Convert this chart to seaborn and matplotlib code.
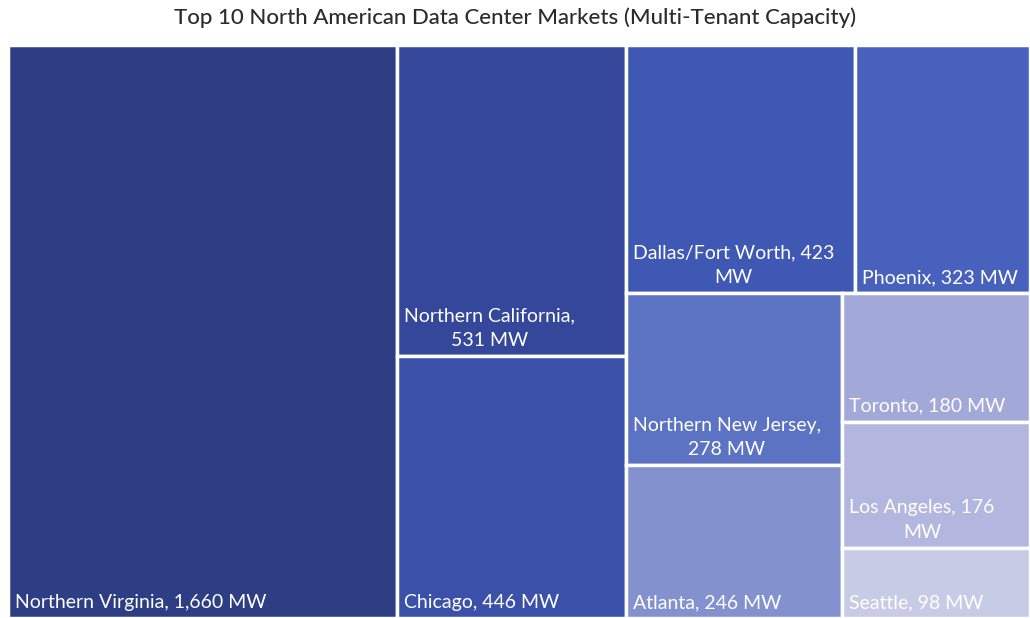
import matplotlib
matplotlib.use("Agg")
import matplotlib.pyplot as plt
import seaborn as sns

# top 10 markets, multi-tenant capacity in MW
markets = ["Northern Virginia", "Northern California", "Chicago", "Dallas/Fort Worth",
           "Phoenix", "Northern New Jersey", "Atlanta", "Toronto", "Los Angeles", "Seattle"]
capacity_mw = [1660, 531, 446, 423, 323, 278, 246, 180, 176, 98]
# labels as wrapped in the source chart
labels = ["Northern Virginia, 1,660 MW", "Northern California,\n531 MW", "Chicago, 446 MW",
          "Dallas/Fort Worth, 423\nMW", "Phoenix, 323 MW", "Northern New Jersey,\n278 MW",
          "Atlanta, 246 MW", "Toronto, 180 MW", "Los Angeles, 176\nMW", "Seattle, 98 MW"]
colors = ["#2D3E85", "#34479A", "#3A50A9", "#3F58B3", "#4861BC",
          "#5C72C3", "#8491CF", "#A2A9D9", "#B3B7DF", "#C8CBE6"]

sns.set_theme(style="white")
plt.rcParams['font.family'] = ['Lato', 'DejaVu Sans']

W, H = 1022.0, 573.0


def worst(row, side):
    s = sum(row)
    return max(max(side * side * r / (s * s), (s * s) / (side * side * r)) for r in row)


def squarify(sizes, x, y, w, h):
    # classic squarified treemap, y grows downwards
    rects = []
    sizes = list(sizes)
    while sizes:
        side = min(w, h)
        row = [sizes[0]]
        i = 1
        while i < len(sizes) and worst(row + [sizes[i]], side) <= worst(row, side):
            row.append(sizes[i])
            i += 1
        sizes = sizes[i:]
        s = sum(row)
        if w >= h:
            cw = s / h
            yy = y
            for r in row:
                rh = r / cw
                rects.append((x, yy, cw, rh))
                yy += rh
            x += cw
            w -= cw
        else:
            rh = s / w
            xx = x
            for r in row:
                rw = r / rh
                rects.append((xx, y, rw, rh))
                xx += rw
            y += rh
            h -= rh
    return rects


total = sum(capacity_mw)
areas = [v * W * H / total for v in capacity_mw]
rects = squarify(areas, 0, 0, W, H)

fig = plt.figure(figsize=(10.3, 6.18), dpi=100)
ax = fig.add_axes([8 / 1030, 0, W / 1030, H / 618])
ax.set_xlim(0, W)
ax.set_ylim(H, 0)
ax.axis("off")

ax.bar([r[0] for r in rects], [r[3] for r in rects], width=[r[2] for r in rects],
       bottom=[r[1] for r in rects], align="edge", color=colors,
       edgecolor="white", linewidth=2.5)

for lab, (x, y, w, h) in zip(labels, rects):
    ax.text(x + 7, y + h - 7, lab, fontsize=14, color="white",
            ha="left", va="bottom", multialignment="center", linespacing=1.55)

fig.text(0.5, 1 - 18 / 618, "Top 10 North American Data Center Markets (Multi-Tenant Capacity)",
         ha="center", va="center", fontsize=16, color="#2b2b2b", weight="medium")

fig.savefig("out.png", dpi=100)
